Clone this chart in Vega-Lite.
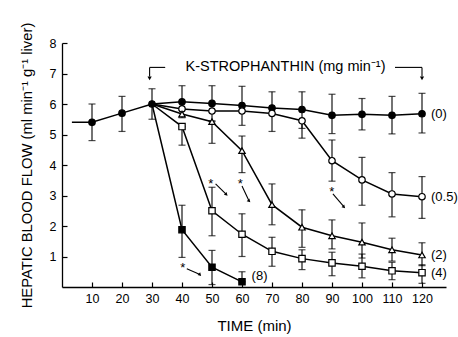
{
  "$schema": "https://vega.github.io/schema/vega-lite/v6.json",
  "width": 384,
  "height": 244,
  "autosize": {"type": "none"},
  "padding": {"left": 62, "top": 43, "right": 12, "bottom": 50},
  "background": "white",
  "config": {
    "view": {"stroke": null},
    "font": "Liberation Sans",
    "axis": {
      "grid": false, "tickSize": -5, "labelFontSize": 12.5,
      "titleFontWeight": "normal",
      "domainColor": "black", "tickColor": "black", "labelColor": "black", "titleColor": "black",
      "domainWidth": 1.3, "tickWidth": 1.2
    },
    "axisX": {"labelPadding": 10, "titleFontSize": 15, "titlePadding": 14},
    "axisY": {"labelPadding": 11, "titleFontSize": 14.8, "titlePadding": 15}
  },
  "datasets": {
    "main": [
      {"s": "0", "t": 3.3, "v": 5.4},
      {"s": "0", "t": 10, "v": 5.4, "lo": 4.8, "hi": 6.0},
      {"s": "0", "t": 20, "v": 5.7, "lo": 5.1, "hi": 6.25},
      {"s": "0", "t": 30, "v": 6.0, "lo": 5.5, "hi": 6.5},
      {"s": "0", "t": 40, "v": 6.07, "lo": 5.55, "hi": 6.6},
      {"s": "0", "t": 50, "v": 6.02, "lo": 5.45, "hi": 6.6},
      {"s": "0", "t": 60, "v": 5.95, "lo": 5.3, "hi": 6.58},
      {"s": "0", "t": 70, "v": 5.87, "lo": 5.1, "hi": 6.4},
      {"s": "0", "t": 80, "v": 5.82, "lo": 5.2, "hi": 6.4},
      {"s": "0", "t": 90, "v": 5.63, "lo": 5.03, "hi": 6.32},
      {"s": "0", "t": 100, "v": 5.66, "lo": 5.15, "hi": 6.18},
      {"s": "0", "t": 110, "v": 5.63, "lo": 5.02, "hi": 6.25},
      {"s": "0", "t": 120, "v": 5.68, "lo": 5.05, "hi": 6.35},
      {"s": "0.5", "t": 30, "v": 6.0},
      {"s": "0.5", "t": 40, "v": 5.84},
      {"s": "0.5", "t": 50, "v": 5.77},
      {"s": "0.5", "t": 60, "v": 5.77},
      {"s": "0.5", "t": 70, "v": 5.69},
      {"s": "0.5", "t": 80, "v": 5.45, "lo": 4.88, "hi": 5.45},
      {"s": "0.5", "t": 90, "v": 4.14, "lo": 3.47, "hi": 4.82},
      {"s": "0.5", "t": 100, "v": 3.51, "lo": 2.68, "hi": 4.25},
      {"s": "0.5", "t": 110, "v": 3.05, "lo": 2.3, "hi": 3.75},
      {"s": "0.5", "t": 120, "v": 2.96, "lo": 2.25, "hi": 3.62},
      {"s": "2", "t": 30, "v": 6.0},
      {"s": "2", "t": 40, "v": 5.67},
      {"s": "2", "t": 50, "v": 5.42, "lo": 4.71, "hi": 5.42},
      {"s": "2", "t": 60, "v": 4.47, "lo": 3.75, "hi": 4.95},
      {"s": "2", "t": 70, "v": 2.7, "lo": 2.04, "hi": 3.38},
      {"s": "2", "t": 80, "v": 1.96, "lo": 1.3, "hi": 2.53},
      {"s": "2", "t": 90, "v": 1.68, "lo": 1.25, "hi": 2.2},
      {"s": "2", "t": 100, "v": 1.47, "lo": 0.95, "hi": 2.1},
      {"s": "2", "t": 110, "v": 1.22, "lo": 0.85, "hi": 1.6},
      {"s": "2", "t": 120, "v": 1.05, "lo": 0.7, "hi": 1.45},
      {"s": "4", "t": 30, "v": 6.0},
      {"s": "4", "t": 40, "v": 5.26, "lo": 4.65, "hi": 5.26},
      {"s": "4", "t": 50, "v": 2.5, "lo": 1.68, "hi": 3.27},
      {"s": "4", "t": 60, "v": 1.73, "lo": 1.0, "hi": 2.4},
      {"s": "4", "t": 70, "v": 1.17, "lo": 0.68, "hi": 1.63},
      {"s": "4", "t": 80, "v": 0.93, "lo": 0.57, "hi": 1.22},
      {"s": "4", "t": 90, "v": 0.79, "lo": 0.37, "hi": 1.14},
      {"s": "4", "t": 100, "v": 0.68, "lo": 0.3, "hi": 1.08},
      {"s": "4", "t": 110, "v": 0.53, "lo": 0.24, "hi": 0.81},
      {"s": "4", "t": 120, "v": 0.47, "lo": 0.12, "hi": 0.73},
      {"s": "8", "t": 30, "v": 6.0},
      {"s": "8", "t": 40, "v": 1.88, "lo": 0.97, "hi": 2.68},
      {"s": "8", "t": 50, "v": 0.65, "lo": 0.08, "hi": 1.2},
      {"s": "8", "t": 60, "v": 0.17, "lo": 0.17, "hi": 0.5}
    ],
    "labels": [
      {"txt": "(0)", "t": 123, "v": 5.68},
      {"txt": "(0.5)", "t": 123, "v": 2.96},
      {"txt": "(2)", "t": 123, "v": 1.05},
      {"txt": "(4)", "t": 123, "v": 0.47},
      {"txt": "(8)", "t": 63.2, "v": 0.36}
    ],
    "stars": [
      {"t": 40.3, "v": 0.72},
      {"t": 49.6, "v": 3.48},
      {"t": 59.4, "v": 3.48},
      {"t": 89.9, "v": 3.22}
    ],
    "segs": [
      {"t": 29.2, "v": 7.2, "t2": 34.4, "v2": 7.2},
      {"t": 29.2, "v": 7.2, "t2": 29.2, "v2": 6.9},
      {"t": 111, "v": 7.2, "t2": 120, "v2": 7.2},
      {"t": 120, "v": 7.2, "t2": 120, "v2": 6.9},
      {"t": 41.6, "v": 0.6, "t2": 45.8, "v2": 0.42},
      {"t": 51.2, "v": 3.38, "t2": 54.6, "v2": 3.05},
      {"t": 60.0, "v": 3.31, "t2": 62.2, "v2": 2.85},
      {"t": 90.3, "v": 3.05, "t2": 93.8, "v2": 2.65}
    ],
    "heads": [
      {"t": 46, "v": 0.4},
      {"t": 54.8, "v": 3.03},
      {"t": 62.4, "v": 2.82},
      {"t": 94, "v": 2.62}
    ],
    "bracketHeads": [
      {"t": 29.2, "v": 6.84},
      {"t": 120, "v": 6.84}
    ],
    "title": [
      {"txt": "K-STROPHANTHIN (mg min⁻¹)", "t": 74.5, "v": 7.21}
    ]
  },
  "encoding": {
    "x": {
      "field": "t", "type": "quantitative",
      "scale": {"domain": [0, 128], "nice": false, "zero": false},
      "axis": {"values": [10, 20, 30, 40, 50, 60, 70, 80, 90, 100, 110, 120], "title": "TIME (min)"}
    },
    "y": {
      "field": "v", "type": "quantitative",
      "scale": {"domain": [0, 8], "nice": false},
      "axis": {"values": [1, 2, 3, 4, 5, 6, 7, 8], "title": "HEPATIC BLOOD FLOW (ml min⁻¹ g⁻¹ liver)"}
    }
  },
  "layer": [
    {
      "data": {"name": "main"},
      "mark": {"type": "line", "color": "black", "strokeWidth": 1.5},
      "encoding": {"detail": {"field": "s"}}
    },
    {
      "data": {"name": "main"},
      "transform": [{"filter": "isValid(datum.lo)"}],
      "mark": {"type": "rule", "color": "black", "strokeWidth": 1.1},
      "encoding": {
        "y": {"field": "lo", "type": "quantitative", "axis": {"values": [1, 2, 3, 4, 5, 6, 7, 8], "title": "HEPATIC BLOOD FLOW (ml min⁻¹ g⁻¹ liver)"}},
        "y2": {"field": "hi"}
      }
    },
    {
      "data": {"name": "main"},
      "transform": [{"filter": "isValid(datum.lo)"}],
      "mark": {"type": "tick", "orient": "horizontal", "color": "black", "size": 7, "thickness": 1.2},
      "encoding": {
        "y": {"field": "lo", "type": "quantitative", "axis": {"values": [1, 2, 3, 4, 5, 6, 7, 8], "title": "HEPATIC BLOOD FLOW (ml min⁻¹ g⁻¹ liver)"}}
      }
    },
    {
      "data": {"name": "main"},
      "transform": [{"filter": "isValid(datum.hi)"}],
      "mark": {"type": "tick", "orient": "horizontal", "color": "black", "size": 7, "thickness": 1.2},
      "encoding": {
        "y": {"field": "hi", "type": "quantitative", "axis": {"values": [1, 2, 3, 4, 5, 6, 7, 8], "title": "HEPATIC BLOOD FLOW (ml min⁻¹ g⁻¹ liver)"}}
      }
    },
    {
      "data": {"name": "main"},
      "transform": [{"filter": "datum.t >= 10 && (datum.s == '0' || datum.t > 30)"}],
      "mark": {"type": "point", "filled": true, "stroke": "black", "strokeWidth": 1.2, "opacity": 1},
      "encoding": {
        "shape": {"field": "s", "type": "nominal", "legend": null,
          "scale": {"domain": ["0", "0.5", "2", "4", "8"], "range": ["circle", "circle", "triangle-up", "square", "square"]}},
        "fill": {"field": "s", "type": "nominal", "legend": null,
          "scale": {"domain": ["0", "0.5", "2", "4", "8"], "range": ["black", "white", "white", "white", "black"]}},
        "size": {"field": "s", "type": "nominal", "legend": null,
          "scale": {"domain": ["0", "0.5", "2", "4", "8"], "range": [42, 40, 50, 44, 48]}}
      }
    },
    {
      "data": {"name": "segs"},
      "mark": {"type": "rule", "color": "black", "strokeWidth": 1.1},
      "encoding": {"x2": {"field": "t2"}, "y2": {"field": "v2"}}
    },
    {
      "data": {"name": "heads"},
      "mark": {"type": "point", "shape": "triangle-right", "angle": 45, "filled": true, "color": "black", "size": 14, "opacity": 1},
      "encoding": {}
    },
    {
      "data": {"name": "bracketHeads"},
      "mark": {"type": "point", "shape": "triangle-down", "filled": true, "color": "black", "size": 18, "opacity": 1},
      "encoding": {}
    },
    {
      "data": {"name": "stars"},
      "mark": {"type": "text", "text": "*", "fontSize": 13, "color": "black", "baseline": "middle", "dy": 3},
      "encoding": {}
    },
    {
      "data": {"name": "labels"},
      "mark": {"type": "text", "align": "left", "baseline": "middle", "fontSize": 13, "color": "black"},
      "encoding": {"text": {"field": "txt"}}
    },
    {
      "data": {"name": "title"},
      "mark": {"type": "text", "align": "center", "baseline": "middle", "fontSize": 14.5, "color": "black"},
      "encoding": {"text": {"field": "txt"}}
    }
  ]
}
